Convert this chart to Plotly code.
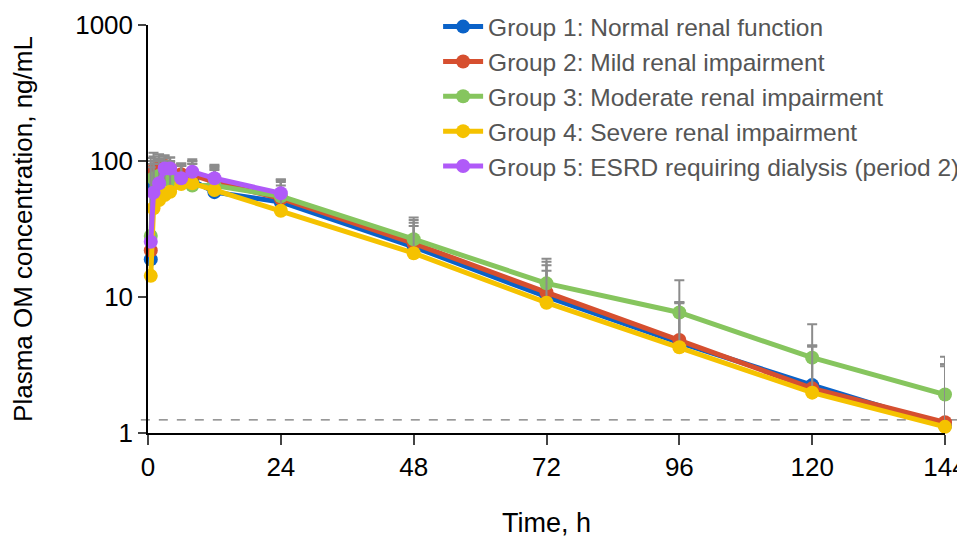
import numpy as np
import plotly.graph_objects as go

# Time points (h)
times = [0.5, 1, 2, 3, 4, 6, 8, 12, 24, 48, 72, 96, 120, 144]
times_g5 = [0.5, 1, 2, 3, 4, 6, 8, 12, 24]

# Mean plasma OM concentration (ng/mL)
g1_mean = [18.9, 66, 78, 80, 78, 72, 72, 59, 50, 23.4, 10.05, 4.61, 2.25, 1.13]
g2_mean = [22, 86, 90, 92, 88, 80, 79, 70, 53, 24.8, 10.8, 4.83, 2.13, 1.2]
g3_mean = [28.1, 74.6, 78, 75, 72, 72.5, 66, 66, 55, 26.6, 12.6, 7.7, 3.58, 1.92]
g4_mean = [14.3, 44.9, 51.7, 56.2, 59.4, 67.7, 68.5, 61.2, 43.1, 21.0, 9.08, 4.27, 1.98, 1.11]
g5_mean = [25.5, 58.5, 68.5, 88, 88, 74.6, 83.4, 74.6, 57.9]

# Upper end of error bars (mean + SD), ng/mL
g1_upper = [95, 100, 108, 104, 100, 92, 96, 88, 70, 35.2, 17.1, 9.1, 4.4, 3.2]
g2_upper = [100, 115, 112, 110, 106, 96, 103, 94, 73, 36.8, 18.2, 9.2, 4.4, 3.2]
g3_upper = [105, 108, 104, 100, 98, 92, 95, 90, 73, 38.5, 19.1, 13.3, 6.3, 3.64]
g4_upper = [60, 95, 96, 92, 90, 94, 100, 86, 66, 33.3, 15.6, 9.0, 4.3, 3.1]
g5_upper = [90, 100, 102, 108, 106, 96, 100, 92, 72]

names = [
    "Group 1: Normal renal function",
    "Group 2: Mild renal impairment",
    "Group 3: Moderate renal impairment",
    "Group 4: Severe renal impairment",
    "Group 5: ESRD requiring dialysis (period 2)",
]
colors = ["#0a62c8", "#d64f2f", "#86c55e", "#f5c200", "#b05af8"]

lloq = 1.25
x_ticks = [0, 24, 48, 72, 96, 120, 144]
y_ticks = [1, 10, 100, 1000]
y_ticktext = ["1", "10", "100", "1000"]

series = [
    (times, g1_mean, g1_upper),
    (times, g2_mean, g2_upper),
    (times, g3_mean, g3_upper),
    (times, g4_mean, g4_upper),
    (times_g5, g5_mean, g5_upper),
]

FONT = "Liberation Sans, Arial, sans-serif"
fig = go.Figure()
for (t, m, u), name, col in zip(series, names, colors):
    m = np.array(m, dtype=float)
    u = np.array(u, dtype=float)
    fig.add_trace(go.Scatter(
        x=t, y=m, name=name, mode="lines+markers",
        line=dict(color=col, width=5),
        marker=dict(color=col, size=14),
        error_y=dict(type="data", array=u - m, arrayminus=np.zeros_like(m),
                     symmetric=False, color="#8c8c8c", thickness=2, width=5),
        cliponaxis=False,
    ))

fig.add_shape(type="line", xref="paper", yref="y", x0=-0.009, x1=1.03,
              y0=lloq, y1=lloq, line=dict(color="#777777", width=1.2, dash="dash"),
              layer="below")

fig.update_layout(
    width=957, height=530,
    margin=dict(l=140, r=20, t=17, b=105, autoexpand=False),
    paper_bgcolor="white", plot_bgcolor="white",
    font=dict(family=FONT, size=27, color="black"),
    showlegend=True,
    legend=dict(x=0.364, y=1.051, xanchor="left", yanchor="top",
                font=dict(family=FONT, size=24.5, color="#555555"),
                bgcolor="rgba(0,0,0,0)", tracegroupgap=0, itemwidth=40),
    xaxis=dict(range=[0, 144], tickvals=x_ticks, ticks="outside", ticklen=10,
               tickwidth=1.5, showline=True, linecolor="black", linewidth=1.5,
               showgrid=False, zeroline=False, tickfont=dict(size=26),
               ticklabeloverflow="allow",
               title=dict(text="Time, h", font=dict(size=27), standoff=37),
               automargin=False),
    yaxis=dict(type="log", range=[0, 3], tickvals=y_ticks, ticktext=y_ticktext,
               ticks="outside", ticklen=8, tickwidth=1.5, showline=True,
               linecolor="black", linewidth=1.5, showgrid=False, zeroline=False,
               tickfont=dict(size=26),
               title=dict(text="Plasma OM concentration, ng/mL", font=dict(size=26), standoff=37),
               automargin=False),
)

fig.write_html("out.html")
